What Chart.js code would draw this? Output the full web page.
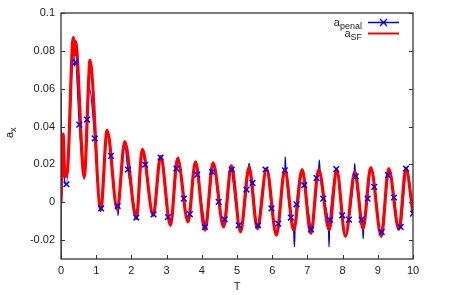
<!DOCTYPE html>
<html>
<head>
<meta charset="utf-8">
<script src="https://cdn.jsdelivr.net/npm/chart.js@4.4.0/dist/chart.umd.min.js"></script>
<style>
html, body { margin: 0; padding: 0; background: #fff; }
</style>
</head>
<body>
<canvas id="chart" width="452" height="295"></canvas>
<script>
// a_SF (red) : extrema
const sfT = [0, 0.06, 0.11, 0.18, 0.35, 0.38, 0.41, 0.66, 0.79, 0.82, 1.13, 1.31, 1.60, 1.81, 2.14, 2.31, 2.62, 2.83, 3.11, 3.31, 3.61, 3.82, 4.09, 4.32, 4.62, 4.84, 5.10, 5.34, 5.58, 5.84, 6.12, 6.36, 6.61, 6.85, 7.10, 7.32, 7.62, 7.83, 8.08, 8.35, 8.58, 8.80, 9.10, 9.31, 9.60, 9.80, 10.0];
const sfV = [0, 0.036, 0.0134, 0.016, 0.087, 0.078, 0.085, 0.0134, 0.066, 0.075, -0.004, 0.038, -0.004, 0.032, -0.0085, 0.028, -0.0069, 0.0243, -0.0122, 0.0231, -0.0104, 0.0213, -0.0148, 0.0208, -0.013, 0.0193, -0.0157, 0.0183, -0.0139, 0.0178, -0.0174, 0.0173, -0.0148, 0.0173, -0.0165, 0.0173, -0.0145, 0.0173, -0.018, 0.016, -0.0139, 0.0183, -0.018, 0.0178, -0.0144, 0.0178, -0.006];

// a_penal (blue) : line extrema and short spikes
const penalT = [0, 0.003, 0.01, 0.06, 0.11, 0.36, 0.38, 0.66, 0.81, 1.12, 1.31, 1.59, 1.62, 1.64, 1.81, 2.15, 2.31, 2.62, 2.83, 3.11, 3.33, 3.61, 3.82, 4.10, 4.32, 4.62, 4.84, 5.10, 5.34, 5.58, 5.84, 6.12, 6.35, 6.37, 6.39, 6.61, 6.63, 6.65, 6.85, 7.11, 7.32, 7.34, 7.36, 7.60, 7.615, 7.63, 7.83, 8.08, 8.33, 8.345, 8.36, 8.57, 8.585, 8.60, 8.80, 9.10, 9.31, 9.60, 9.81];
const penalV = [-0.04, 0.058, 0.0, 0.032, 0.010, 0.082, 0.072, 0.012, 0.060, -0.005, 0.036, -0.004, -0.007, -0.003, 0.030, -0.009, 0.027, -0.007, 0.024, -0.012, 0.024, -0.0105, 0.021, -0.0145, 0.020, -0.013, 0.019, -0.0155, 0.0205, -0.0145, 0.018, -0.017, 0.0173, 0.024, 0.017, -0.0148, -0.0236, -0.014, 0.017, -0.016, 0.0173, 0.0222, 0.016, -0.0145, -0.0236, -0.013, 0.018, -0.018, 0.016, 0.0204, 0.016, -0.0139, -0.0192, -0.013, 0.018, -0.018, 0.0178, -0.0144, 0.0185];

// a_penal sample points (crosses)
const markT = [0.156, 0.41, 0.52, 0.74, 0.96, 1.14, 1.42, 1.61, 1.90, 2.14, 2.39, 2.63, 2.83, 3.04, 3.28, 3.49, 3.66, 3.87, 4.09, 4.29, 4.48, 4.65, 4.85, 5.05, 5.27, 5.44, 5.60, 5.81, 5.98, 6.17, 6.36, 6.53, 6.69, 6.91, 7.10, 7.26, 7.45, 7.64, 7.82, 7.99, 8.18, 8.37, 8.54, 8.71, 8.90, 9.11, 9.29, 9.46, 9.65, 9.80, 10.0];
const markV = [0.0095, 0.074, 0.041, 0.0437, 0.0337, -0.0033, 0.0245, -0.002, 0.0173, -0.0081, 0.0198, -0.0064, 0.0236, -0.0078, 0.0178, 0.0019, -0.0063, 0.0146, -0.013, 0.016, 0.0002, -0.0091, 0.0173, -0.0122, 0.0067, 0.0102, -0.0122, 0.0173, -0.0033, -0.0113, 0.0169, -0.0081, -0.0011, 0.009, -0.0144, 0.0128, 0.0019, -0.0093, 0.0175, -0.0069, -0.0092, 0.0137, -0.0092, 0.0019, 0.0081, -0.0157, 0.0143, 0.0025, -0.013, 0.0178, -0.006];

const xTicks = [0, 1, 2, 3, 4, 5, 6, 7, 8, 9, 10];
const yTicks = [-0.02, 0, 0.02, 0.04, 0.06, 0.08, 0.1];
const yTickLabels = ['-0.02', '0', '0.02', '0.04', '0.06', '0.08', '0.1'];

const FONT = '"Liberation Sans", Arial, sans-serif';
const BLUE = '#0000ff';
const RED = '#ff0000';

function toPoints(ts, vs) {
    return ts.map((t, i) => ({ x: t, y: vs[i] }));
}

const sfPoints = toPoints(sfT, sfV);
const markPoints = toPoints(markT, markV);
const penalLine = toPoints(penalT, penalV).concat(markPoints).sort((a, b) => a.x - b.x);

// frame, inward tics, legend and y label (gnuplot look)
const decor = {
    id: 'decor',
    beforeDatasetsDraw(chart) {
        const ctx = chart.ctx;
        const a = chart.chartArea;
        const xs = chart.scales.x, ys = chart.scales.y;
        ctx.save();
        ctx.strokeStyle = '#333';
        ctx.lineWidth = 1;
        ctx.beginPath();
        xTicks.forEach(v => {
            const px = Math.round(xs.getPixelForValue(v)) + 0.5;
            ctx.moveTo(px, a.bottom);
            ctx.lineTo(px, a.bottom - 4);
        });
        yTicks.forEach(v => {
            const py = Math.round(ys.getPixelForValue(v)) + 0.5;
            ctx.moveTo(a.left, py);
            ctx.lineTo(a.left + 4, py);
            ctx.moveTo(a.right, py);
            ctx.lineTo(a.right - 4, py);
        });
        ctx.stroke();
        ctx.restore();
    },
    afterDraw(chart) {
        const ctx = chart.ctx;
        const a = chart.chartArea;
        ctx.save();
        ctx.strokeStyle = '#333';
        ctx.lineWidth = 1.3;
        ctx.strokeRect(a.left, a.top, a.right - a.left, a.bottom - a.top);

        // legend
        const x1 = a.right - 45, x2 = a.right - 14;
        const textRight = x1 - 6;
        function entry(sub, baseY) {
            ctx.font = '9px ' + FONT;
            const ws = ctx.measureText(sub).width;
            ctx.font = '11px ' + FONT;
            const wa = ctx.measureText('a').width;
            ctx.fillStyle = '#222';
            ctx.textAlign = 'left';
            ctx.textBaseline = 'alphabetic';
            ctx.fillText('a', textRight - ws - wa, baseY);
            ctx.font = '9px ' + FONT;
            ctx.fillText(sub, textRight - ws, baseY + 3);
        }
        entry('penal', a.top + 13);
        entry('SF', a.top + 24);
        ctx.lineWidth = 1.4;
        ctx.strokeStyle = BLUE;
        ctx.beginPath();
        ctx.moveTo(x1, a.top + 9.5);
        ctx.lineTo(x2, a.top + 9.5);
        const cx = (x1 + x2) / 2, cy = a.top + 9.5;
        ctx.moveTo(cx - 3.5, cy - 3.5); ctx.lineTo(cx + 3.5, cy + 3.5);
        ctx.moveTo(cx - 3.5, cy + 3.5); ctx.lineTo(cx + 3.5, cy - 3.5);
        ctx.stroke();
        ctx.strokeStyle = RED;
        ctx.lineWidth = 2;
        ctx.beginPath();
        ctx.moveTo(x1, a.top + 20.5);
        ctx.lineTo(x2, a.top + 20.5);
        ctx.stroke();

        // y axis title a_x
        ctx.translate(12.5, 138);
        ctx.rotate(-Math.PI / 2);
        ctx.fillStyle = '#222';
        ctx.font = '11px ' + FONT;
        ctx.textAlign = 'left';
        ctx.textBaseline = 'alphabetic';
        ctx.fillText('a', 0, 0);
        const wa = ctx.measureText('a').width;
        ctx.font = '9px ' + FONT;
        ctx.fillText('x', wa, 3);
        ctx.restore();
    }
};

new Chart(document.getElementById('chart'), {
    type: 'line',
    data: {
        datasets: [
            {
                label: 'a_penal marks',
                data: markPoints,
                showLine: false,
                pointStyle: 'crossRot',
                pointRadius: 4,
                pointBorderWidth: 1.5,
                pointBorderColor: BLUE,
                borderColor: BLUE
            },
            {
                label: 'a_SF',
                data: sfPoints,
                borderColor: RED,
                borderWidth: 3.2,
                pointRadius: 0,
                cubicInterpolationMode: 'monotone'
            },
            {
                label: 'a_penal',
                data: penalLine,
                borderColor: BLUE,
                borderWidth: 1.3,
                pointRadius: 0,
                cubicInterpolationMode: 'monotone'
            }
        ]
    },
    options: {
        responsive: false,
        animation: false,
        layout: { padding: { top: 13, right: 39, left: 0, bottom: 0 } },
        plugins: {
            legend: { display: false },
            tooltip: { enabled: false }
        },
        scales: {
            x: {
                type: 'linear',
                min: 0,
                max: 10,
                afterBuildTicks: s => { s.ticks = xTicks.map(v => ({ value: v })); },
                afterFit: s => { s.height = 36; },
                grid: { display: false, drawTicks: false, tickLength: 0 },
                border: { display: false },
                ticks: { padding: 5, color: '#222', maxRotation: 0, autoSkip: false, font: { family: FONT, size: 11 } },
                title: { display: true, text: 'T', color: '#222', padding: { top: 0, bottom: 1 }, font: { family: FONT, size: 11 } }
            },
            y: {
                min: -0.03,
                max: 0.1,
                afterBuildTicks: s => { s.ticks = yTicks.map(v => ({ value: v })); },
                afterFit: s => { s.width = 61; },
                grid: { display: false, drawTicks: false, tickLength: 0 },
                border: { display: false },
                ticks: {
                    padding: 6,
                    color: '#222',
                    font: { family: FONT, size: 11 },
                    callback: v => yTickLabels[yTicks.indexOf(v)]
                }
            }
        }
    },
    plugins: [decor]
});
</script>
</body>
</html>
